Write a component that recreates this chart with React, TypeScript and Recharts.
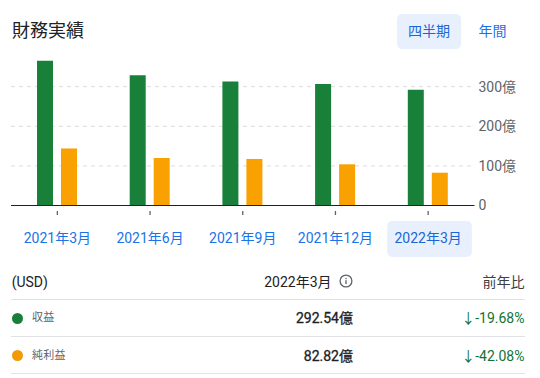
import React from 'react'
import { Bar, BarChart, CartesianGrid, XAxis, YAxis } from 'recharts'

const periods = ['2021年3月', '2021年6月', '2021年9月', '2021年12月', '2022年3月']
const revenue = [365.5, 329, 313, 307, 292.54]
const netIncome = [144, 120, 117.5, 104, 82.82]
const yTicks = [0, 100, 200, 300]

const seriesNames = ['収益', '純利益']
const yoyChanges = ['-19.68%', '-42.08%']

const FONT = "Roboto, 'Noto Sans CJK JP', sans-serif"
const GREEN = '#188038'
const ORANGE = '#f9a100'

const chartData = periods.map((period, i) => ({
  period,
  revenue: revenue[i],
  netIncome: netIncome[i],
}))

function PeriodTick(props: any) {
  const { x, y, payload, index } = props
  const selected = index === periods.length - 1
  return (
    <g>
      <line x1={x} x2={x} y1={y + 5.5} y2={y + 9.5} stroke="#5f6368" strokeWidth={1.3} />
      {selected && (
        <rect x={x - 41} y={y + 15.5} width={84.7} height={36} rx={5} fill="#e8f0fe" />
      )}
      <text
        x={x}
        y={y + 33}
        dy="0.355em"
        textAnchor="middle"
        fontSize={14}
        fontFamily={FONT}
        fill={selected ? '#1967d2' : '#1a73e8'}
      >
        {payload.value}
      </text>
    </g>
  )
}

function ValueTick(props: any) {
  const { x, y, payload } = props
  return (
    <text x={x} y={y} dy="0.355em" textAnchor="start" fontSize={14} fontFamily={FONT} fill="#5f6368">
      {payload.value === 0 ? '0' : `${payload.value}億`}
    </text>
  )
}

const abs = (style: React.CSSProperties): React.CSSProperties => ({
  position: 'absolute',
  whiteSpace: 'nowrap',
  height: 20,
  lineHeight: '20px',
  ...style,
})

export default function App() {
  const latest = [revenue[revenue.length - 1], netIncome[netIncome.length - 1]]
  const dotColors = [GREEN, '#f29a00']
  const rowY = [318.3, 355.7]

  return (
    <div
      style={{
        position: 'absolute',
        left: 0,
        top: 0,
        width: 540,
        height: 378,
        background: '#fff',
        fontFamily: FONT,
        color: '#202124',
      }}
    >
      <div style={abs({ left: 12, top: 31 - 12, height: 24, lineHeight: '24px', fontSize: 18 })}>財務実績</div>
      <div
        style={{
          position: 'absolute',
          left: 397,
          top: 14,
          width: 64,
          height: 34.5,
          borderRadius: 5,
          background: '#e8f0fe',
          color: '#1967d2',
          fontSize: 14,
          lineHeight: '34.5px',
          textAlign: 'center',
        }}
      >
        四半期
      </div>
      <div style={abs({ left: 472.5, width: 40, top: 31.3 - 10, fontSize: 14, color: '#1a73e8', textAlign: 'center' })}>
        年間
      </div>

      <div style={{ position: 'absolute', left: 0, top: 0 }}>
        <BarChart
          width={540}
          height={265}
          data={chartData}
          margin={{ top: 55, right: 5.5, bottom: 5, left: 11 }}
          barSize={16}
          barGap={8}
        >
          <CartesianGrid vertical={false} syncWithTicks stroke="#dadce0" strokeDasharray="4 4" />
          <XAxis
            dataKey="period"
            interval={0}
            height={54.5}
            tickLine={false}
            tickSize={0}
            tickMargin={0}
            axisLine={{ stroke: '#202124', strokeWidth: 1 }}
            tick={<PeriodTick />}
          />
          <YAxis
            orientation="right"
            width={60}
            domain={[0, 380]}
            ticks={yTicks}
            axisLine={false}
            tickLine={false}
            tickSize={0}
            tickMargin={4}
            tick={<ValueTick />}
          />
          <Bar dataKey="revenue" fill={GREEN} isAnimationActive={false} />
          <Bar dataKey="netIncome" fill={ORANGE} isAnimationActive={false} />
        </BarChart>
      </div>

      <div style={abs({ left: 11.7, top: 281.7 - 10, fontSize: 14 })}>(USD)</div>
      <div style={abs({ right: 540 - 331.5, top: 281.7 - 10, fontSize: 14 })}>2022年3月</div>
      <svg style={{ position: 'absolute', left: 339.3, top: 274 }} width={14} height={14} viewBox="0 0 14 14">
        <circle cx={7} cy={7} r={5.9} fill="none" stroke="#5f6368" strokeWidth={1.3} />
        <rect x={6.35} y={6.2} width={1.3} height={3.8} fill="#5f6368" />
        <rect x={6.35} y={3.9} width={1.3} height={1.3} fill="#5f6368" />
      </svg>
      <div style={abs({ right: 540 - 524.5, top: 281.7 - 10, fontSize: 14, color: '#3c4043' })}>前年比</div>

      {[299.3, 336.3, 373.3].map((y) => (
        <div key={y} style={{ position: 'absolute', left: 11, top: y - 0.5, width: 514, height: 1, background: '#e0e2e5' }} />
      ))}

      {seriesNames.map((name, i) => (
        <React.Fragment key={name}>
          <div
            style={{
              position: 'absolute',
              left: 17.7 - 5.8,
              top: rowY[i] - 5.8,
              width: 11.6,
              height: 11.6,
              borderRadius: '50%',
              background: dotColors[i],
            }}
          />
          <div style={abs({ left: 32, top: rowY[i] - 10, fontSize: 11, color: '#5f6368', letterSpacing: 0.3 })}>{name}</div>
          <div
            style={abs({
              right: 540 - 353,
              top: rowY[i] - 10,
              fontSize: 14,
              fontWeight: 400,
              WebkitTextStroke: '0.3px #202124',
            })}
          >
            {`${latest[i].toFixed(2)}億`}
          </div>
          <div style={abs({ right: 540 - 524.5, top: rowY[i] - 10, fontSize: 14, color: '#137333' })}>
            {`↓${yoyChanges[i]}`}
          </div>
        </React.Fragment>
      ))}
    </div>
  )
}
